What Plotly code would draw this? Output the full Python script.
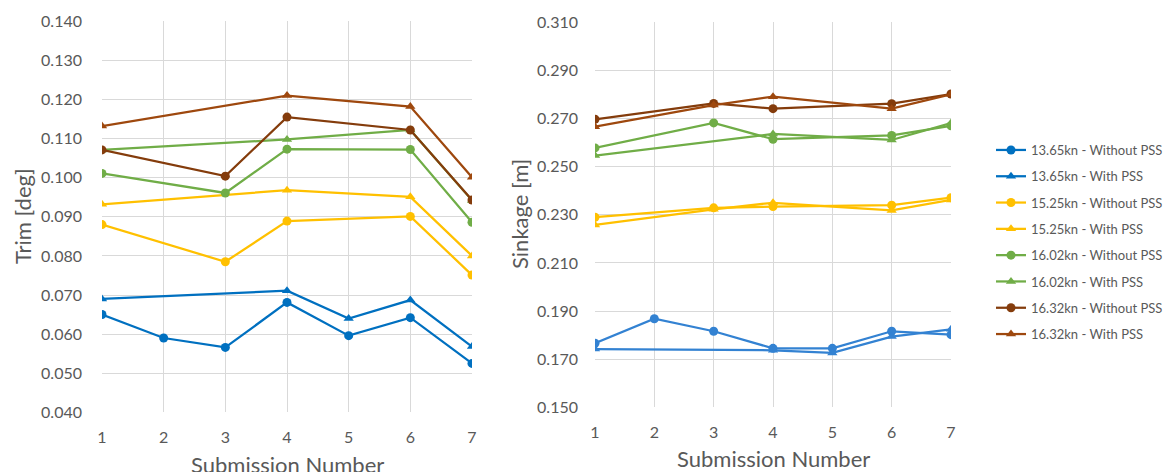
import plotly.graph_objects as go

submissions = [1, 2, 3, 4, 5, 6, 7]

series_names = [
    "13.65kn - Without PSS", "13.65kn - With PSS",
    "15.25kn - Without PSS", "15.25kn - With PSS",
    "16.02kn - Without PSS", "16.02kn - With PSS",
    "16.32kn - Without PSS", "16.32kn - With PSS",
]

# Trim [deg]
trim_1365_without = [0.065, 0.059, 0.0566, 0.0681, 0.0596, 0.0642, 0.0525]
trim_1365_with = [0.069, None, None, 0.0711, 0.064, 0.0687, 0.0568]
trim_1525_without = [0.088, None, 0.0785, 0.0889, None, 0.0901, 0.0751]
trim_1525_with = [0.0932, None, None, 0.0968, None, 0.0951, 0.080]
trim_1602_without = [0.1011, None, 0.0961, 0.1073, None, 0.1072, 0.0886]
trim_1602_with = [0.1071, None, None, 0.1098, None, 0.1122, 0.0942]
trim_1632_without = [0.1071, None, 0.1004, 0.1155, None, 0.1122, 0.0943]
trim_1632_with = [0.1132, None, None, 0.1210, None, 0.1182, 0.1001]

# Sinkage [m]
sink_1365_without = [0.1766, 0.1868, 0.1816, 0.1745, 0.1745, 0.1816, 0.1802]
sink_1365_with = [0.1742, None, None, 0.1737, 0.1726, 0.1794, 0.1824]
sink_1525_without = [0.2290, None, 0.2329, 0.2334, None, 0.2340, 0.2371]
sink_1525_with = [0.2258, None, 0.2323, 0.2350, None, 0.2318, 0.2362]
sink_1602_without = [0.2578, None, 0.2682, 0.2614, None, 0.2630, 0.2670]
sink_1602_with = [0.2546, None, None, 0.2636, None, 0.2611, 0.2681]
sink_1632_without = [0.2697, None, 0.2763, 0.2741, None, 0.2762, 0.2802]
sink_1632_with = [0.2666, None, 0.2756, 0.2791, None, 0.2741, 0.2801]

trim_series = [trim_1365_without, trim_1365_with, trim_1525_without, trim_1525_with,
               trim_1602_without, trim_1602_with, trim_1632_without, trim_1632_with]
sink_series = [sink_1365_without, sink_1365_with, sink_1525_without, sink_1525_with,
               sink_1602_without, sink_1602_with, sink_1632_without, sink_1632_with]

colors = ["#0070C0", "#0070C0", "#FFC000", "#FFC000",
          "#70AD47", "#70AD47", "#843C0C", "#9E480E"]
right_colors = ["#3382D2", "#3382D2", "#FFC000", "#FFC000",
                "#70AD47", "#70AD47", "#843C0C", "#9E480E"]
symbols = ["circle", "triangle-up"] * 4

W, H = 1167, 472
def px_x(p):
    return p / W
def px_y(p):
    return 1 - p / H

fig = go.Figure()

for i, name in enumerate(series_names):
    fig.add_trace(go.Scatter(
        x=submissions, y=trim_series[i], name=name, mode="lines+markers",
        connectgaps=True, legendgroup=name,
        line=dict(color=colors[i], width=2.25),
        marker=dict(symbol=symbols[i], size=9, color=colors[i]),
        xaxis="x", yaxis="y", showlegend=True,
    ))
for i, name in enumerate(series_names):
    fig.add_trace(go.Scatter(
        x=submissions, y=sink_series[i], name=name, mode="lines+markers",
        connectgaps=True, legendgroup=name,
        line=dict(color=right_colors[i], width=2.25),
        marker=dict(symbol=symbols[i], size=9, color=right_colors[i]),
        xaxis="x2", yaxis="y2", showlegend=False,
    ))

font_family = "Lato, 'Open Sans', sans-serif"
grey = "#595959"
grid = "#D9D9D9"

axis_common = dict(
    showgrid=True, gridcolor=grid, gridwidth=1, zeroline=False, automargin=False,
    showline=False, ticks="", tickfont=dict(family=font_family, size=16, color=grey),
)

title_font = dict(family=font_family, size=22, color=grey)

def title_ann(text, x, y, angle=0):
    return dict(text=text, x=px_x(x), y=px_y(y), xref="paper", yref="paper",
                xanchor="center", yanchor="middle", textangle=angle,
                showarrow=False, font=title_font)

fig.update_layout(
    width=W, height=H,
    margin=dict(l=0, r=0, t=0, b=0, autoexpand=False),
    paper_bgcolor="white", plot_bgcolor="white",
    font=dict(family=font_family, color=grey),
    xaxis=dict(domain=[px_x(102), px_x(472)], range=[1, 7], tickvals=submissions,
               ticklabelstandoff=14, anchor="y", **axis_common),
    yaxis=dict(domain=[px_y(412.3), px_y(21.3)], range=[0.040, 0.140],
               tick0=0.040, dtick=0.010,
               tickformat=".3f", ticklabelstandoff=19, anchor="x", **axis_common),
    xaxis2=dict(domain=[px_x(595), px_x(951)], range=[1, 7], tickvals=submissions,
                ticklabelstandoff=14, anchor="y2", **axis_common),
    yaxis2=dict(domain=[px_y(407.3), px_y(22.3)], range=[0.150, 0.310],
                tick0=0.150, dtick=0.020,
                tickformat=".3f", ticklabelstandoff=16, anchor="x2", **axis_common),
    legend=dict(
        x=px_x(991), y=px_y(135), xanchor="left", yanchor="top",
        font=dict(family=font_family, size=13, color=grey),
        tracegroupgap=6.4, itemwidth=30, bgcolor="rgba(0,0,0,0)",
    ),
    annotations=[
        title_ann("Trim [deg]", 22, 216, -90),
        title_ann("Sinkage [m]", 519, 214, -90),
        title_ann("Submission Number", 287, 464),
        title_ann("Submission Number", 773, 458),
    ],
)

fig.write_html("out.html")
